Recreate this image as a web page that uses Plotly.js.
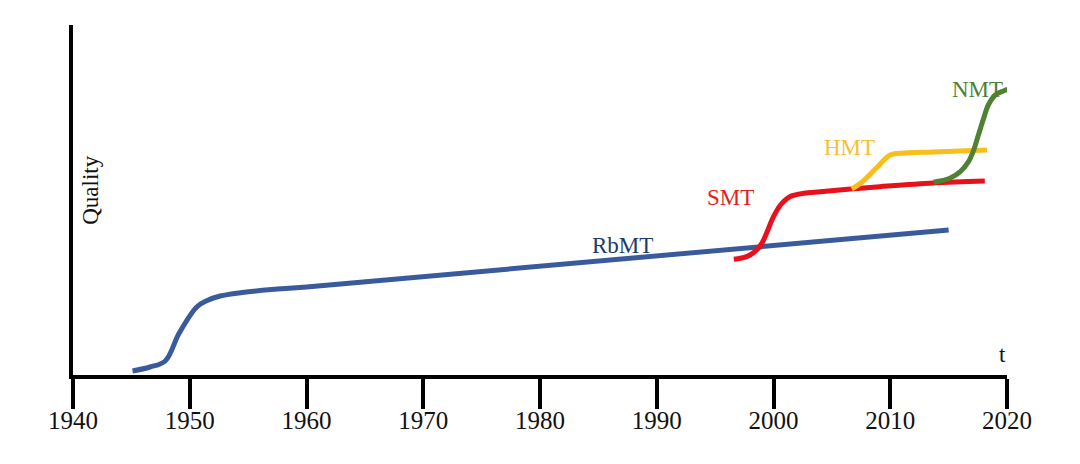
<!DOCTYPE html>
<html>
<head>
<meta charset="utf-8">
<script src="https://cdn.plot.ly/plotly-3.0.1.min.js"></script>
<style>html,body{margin:0;padding:0;background:#fff;}#chart{width:1080px;height:464px;}</style>
</head>
<body>
<div id="chart"></div>
<script>
// Years (x) and quality values (y, arbitrary units)
const rbmtYears = [1945.1, 1946.6, 1947.9, 1949.1, 1950.6, 1951.5, 1952.6, 1954.5, 1957.0, 1960.0, 2015.0];
const rbmtQuality = [4, 8, 14, 42, 68, 74.5, 79, 82.5, 85.5, 88, 145];

const smtYears = [1996.6, 1997.7, 1998.4, 1999.0, 1999.4, 2000.0, 2000.6, 2001.4, 2002.6, 2004.0, 2006.6, 2009.1, 2013.7, 2018.1];
const smtQuality = [115.7, 118.3, 123.3, 131.7, 141.7, 158.3, 170, 178.3, 181.7, 183.3, 186, 188.3, 192, 194];

const hmtYears = [2006.7, 2007.6, 2008.9, 2010.0, 2011.3, 2013.7, 2018.3];
const hmtQuality = [186, 193, 208, 220, 222, 223, 225];

const nmtYears = [2013.7, 2015.1, 2016.0, 2016.7, 2017.1, 2017.55, 2018.0, 2018.4, 2019.0, 2019.7, 2020.2];
const nmtQuality = [192.7, 196.7, 203.3, 213.3, 223.3, 240, 256.7, 270, 280, 284, 286];

const tickYears = [1940, 1950, 1960, 1970, 1980, 1990, 2000, 2010, 2020];
const tickLabels = ["1940", "1950", "1960", "1970", "1980", "1990", "2000", "2010", "2020"];

const seriesNames = ["RbMT", "SMT", "HMT", "NMT"];
const lineColors = ["#3A5B9B", "#E8101A", "#F8BE1A", "#508033"];
const labelColors = ["#203A6B", "#E32020", "#F8C030", "#4F7F35"];
const labelYears = [1987.1, 1996.3, 2006.55, 2017.45];
const labelQuality = [130, 178, 228, 286];

const xs = [rbmtYears, smtYears, hmtYears, nmtYears];
const ys = [rbmtQuality, smtQuality, hmtQuality, nmtQuality];

const traces = seriesNames.map((n, i) => ({
  x: xs[i], y: ys[i], name: n, type: 'scatter', mode: 'lines',
  line: {color: lineColors[i], width: 5, shape: 'spline', smoothing: 1},
  cliponaxis: false, hoverinfo: 'skip'
}));

const serif = "'Liberation Serif', 'DejaVu Serif', serif";

const annotations = seriesNames.map((n, i) => ({
  x: labelYears[i], y: labelQuality[i], xref: 'x', yref: 'y', text: n,
  showarrow: false, font: {family: serif, size: 23, color: labelColors[i]},
  xanchor: 'center', yanchor: 'middle'
}));
annotations.push({x: 2019.6, y: 21, xref: 'x', yref: 'y', text: 't', showarrow: false,
  font: {family: serif, size: 23, color: '#111'}, xanchor: 'center', yanchor: 'middle'});
annotations.push({x: 0.018, y: 185, xref: 'paper', yref: 'y', text: 'Quality', showarrow: false,
  textangle: -90, font: {family: serif, size: 23, color: '#111'}, xanchor: 'center', yanchor: 'middle'});

const layout = {
  width: 1080, height: 464,
  margin: {l: 73, r: 73, t: 25, b: 89},
  paper_bgcolor: '#fff', plot_bgcolor: '#fff',
  showlegend: false,
  xaxis: {
    range: [1940, 2020], showgrid: false, zeroline: false,
    showline: true, linecolor: '#000', linewidth: 4,
    ticks: 'outside', ticklen: 30, tickwidth: 4, tickcolor: '#000',
    tickvals: tickYears, ticktext: tickLabels, ticklabelstandoff: -10,
    tickfont: {family: serif, size: 25, color: '#111'}
  },
  yaxis: {
    range: [0, 350], showgrid: false, zeroline: false,
    showline: true, linecolor: '#000', linewidth: 4,
    showticklabels: false, ticks: ''
  },
  annotations: annotations
};

Plotly.newPlot('chart', traces, layout, {displayModeBar: false, staticPlot: true});
</script>
</body>
</html>
